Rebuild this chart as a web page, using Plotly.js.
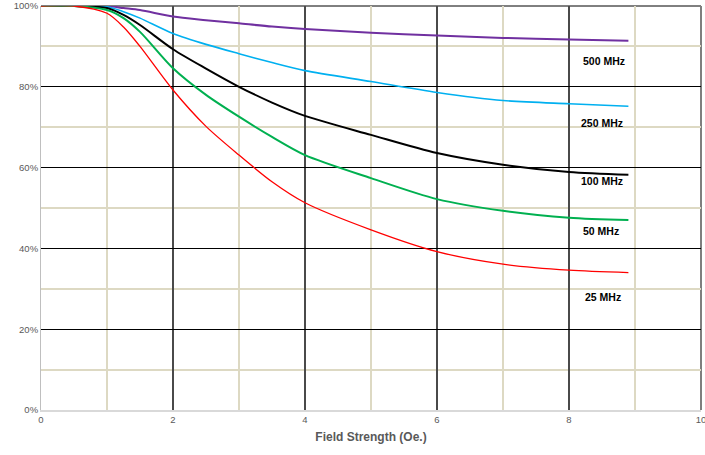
<!DOCTYPE html>
<html><head><meta charset="utf-8">
<script src="https://cdn.plot.ly/plotly-3.0.1.min.js"></script>
<style>html,body{margin:0;padding:0;background:#fff}#chart{width:705px;height:455px}</style>
</head><body><div id="chart"></div>
<script>
const fieldStrength = [0, 0.5, 1, 1.25, 1.5, 2, 2.5, 3, 3.5, 4, 5, 6, 7, 8, 8.9];
const seriesNames = ['500 MHz', '250 MHz', '100 MHz', '50 MHz', '25 MHz'];
const mhz500 = [100, 100, 100, 99.5, 99, 97.4, 96.5, 95.7, 94.9, 94.3, 93.4, 92.7, 92.1, 91.7, 91.4];
const mhz250 = [100, 100, 99.8, 98.6, 97, 93.2, 90.5, 88.2, 86, 84, 81.3, 78.6, 76.6, 75.8, 75.2];
const mhz100 = [100, 100, 99.5, 97.8, 95.3, 89.3, 84.5, 80, 76.1, 72.8, 68.1, 63.6, 60.7, 58.9, 58.2];
const mhz50 = [100, 100, 99, 97, 93.6, 84.6, 78, 72.6, 67.6, 63.1, 57.4, 52.2, 49.3, 47.6, 47];
const mhz25 = [100, 100, 98.2, 94.8, 90, 79.2, 70.2, 63.1, 56.5, 51.3, 44.6, 39.2, 36.1, 34.6, 34];
const labelX = [8.53, 8.5, 8.5, 8.48, 8.52];
const labelY = [86.4, 71, 56.7, 44.3, 28];
const xTitle = 'Field Strength (Oe.)';

const allSeries = [mhz500, mhz250, mhz100, mhz50, mhz25];
const colors = ['#7030a0', '#00b0f0', '#000000', '#00b050', '#ff0000'];
const widths = [2, 1.6, 2, 2, 1.3];

const traces = allSeries.map((ys, i) => ({
  x: fieldStrength, y: ys, type: 'scatter', mode: 'lines', name: seriesNames[i],
  line: {color: colors[i], width: widths[i], shape: 'spline', smoothing: 0.8},
  hoverinfo: 'skip'
}));

const annotations = seriesNames.map((n, i) => ({
  x: labelX[i], y: labelY[i], xref: 'x', yref: 'y', text: '<b>' + n + '</b>',
  showarrow: false, font: {family: 'Liberation Sans, Arial, sans-serif', size: 10.5, color: '#000'},
  xanchor: 'center', yanchor: 'middle'
}));

const layout = {
  width: 705, height: 455,
  margin: {l: 41, r: 4, t: 6, b: 45},
  paper_bgcolor: '#fff', plot_bgcolor: '#fff',
  showlegend: false,
  font: {family: 'Liberation Sans, Arial, sans-serif', size: 9.5, color: '#595959'},
  xaxis: {
    range: [0, 10], dtick: 2, tick0: 0, showgrid: true, gridcolor: '#4a4a4a', gridwidth: 1.5,
    minor: {dtick: 1, showgrid: true, gridcolor: '#ddd9c3', gridwidth: 2},
    zeroline: false, showline: true, linecolor: '#d9d9d9', linewidth: 2,
    ticks: '', ticklen: 0, automargin: false, ticklabeloverflow: 'allow',
    tickfont: {size: 9.5, color: '#595959'},
    title: {text: '<b>' + xTitle + '</b>', font: {size: 12, color: '#595959'}, standoff: 8},
    fixedrange: true
  },
  yaxis: {
    range: [0, 100], dtick: 20, tick0: 0, ticksuffix: '%', showgrid: true, gridcolor: '#000', gridwidth: 1,
    minor: {dtick: 10, showgrid: true, gridcolor: '#ddd9c3', gridwidth: 2},
    zeroline: false, showline: true, linecolor: '#bfbfbf', linewidth: 1,
    ticks: '', automargin: false, tickfont: {size: 9.5, color: '#595959'},
    fixedrange: true
  },
  shapes: [
    {type: 'line', xref: 'paper', yref: 'paper', x0: 0, x1: 1, y0: 1, y1: 1, line: {color: '#000', width: 1}, layer: 'below'},
    {type: 'line', xref: 'paper', yref: 'paper', x0: 1, x1: 1, y0: 0, y1: 1, line: {color: '#7f7f7f', width: 2}, layer: 'below'}
  ],
  annotations: annotations
};

Plotly.newPlot('chart', traces, layout, {displayModeBar: false, staticPlot: true});
</script>
</body></html>
